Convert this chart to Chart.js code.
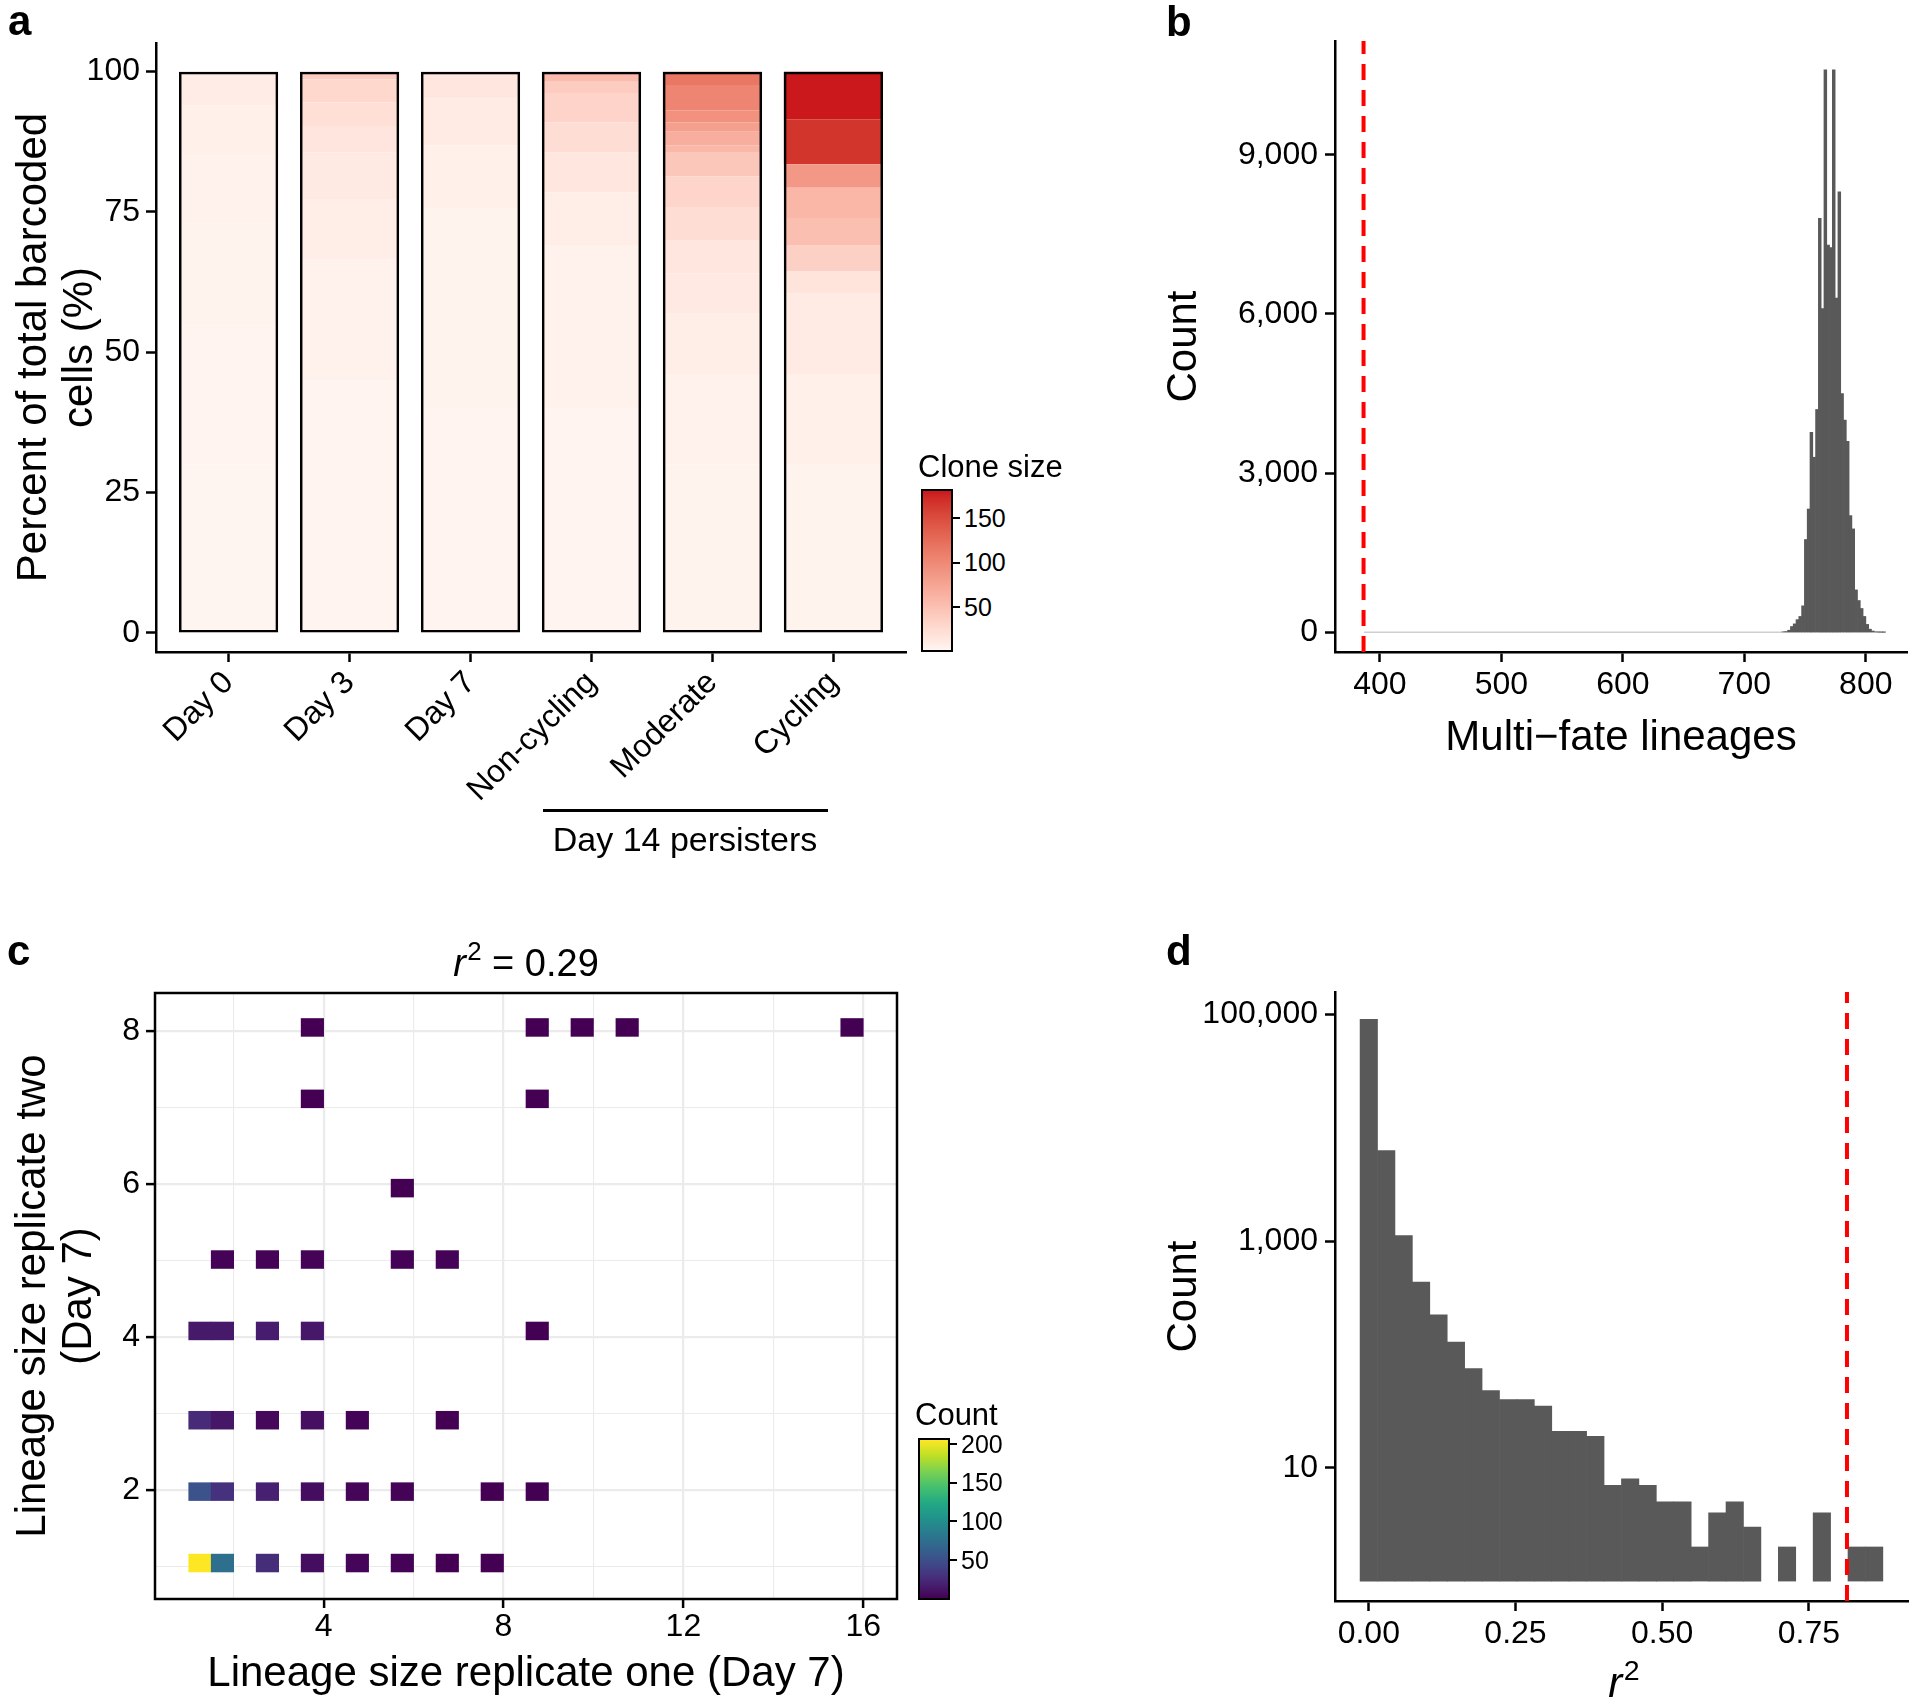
<!DOCTYPE html>
<html>
<head>
<meta charset="utf-8">
<title>Clone size and multi-fate lineages</title>
<script src="https://cdn.jsdelivr.net/npm/chart.js"></script>
<style>
  html, body { margin: 0; padding: 0; background: #ffffff; }
  #page { position: relative; width: 1920px; height: 1707px; overflow: hidden;
          font-family: "Liberation Sans", Arial, Helvetica, sans-serif; color: #000; }
  #page canvas { position: absolute; }
  .lbl { position: absolute; white-space: nowrap; line-height: 1; }
  .cbar { position: absolute; box-sizing: border-box; border: 2px solid #000; }
  .ctick { position: absolute; width: 7px; height: 2px; background: #000; }
  .sup { position: relative; top: -0.6em; font-size: 0.68em; margin-left: 0.05em; }
</style>
</head>
<body>
<div id="page">
  <canvas id="chartA" width="920" height="860" style="left:0px; top:0px;"></canvas>
  <canvas id="chartB" width="760" height="800" style="left:1160px; top:0px;"></canvas>
  <canvas id="chartC" width="920" height="807" style="left:0px; top:900px;"></canvas>
  <canvas id="chartD" width="760" height="807" style="left:1160px; top:900px;"></canvas>
  <div style="position:absolute; left:543px; top:809px; width:285px; height:3px; background:#000;"></div>
</div>
<script>
// ---- panel a: share of barcoded cells by clone size (bottom to top) ----
const sampleLabels = ["Day 0", "Day 3", "Day 7", "Non-cycling", "Moderate", "Cycling"];
const day0Sizes = [1, 2, 3, 4, 6, 9];
const day0Pct = [30, 25, 18, 12, 9, 6];
const day3Sizes = [2, 4, 7, 11, 16, 21, 28, 39];
const day3Pct = [45, 21.6, 10.7, 8.3, 4.7, 4.2, 4.1, 1.4];
const day7Sizes = [2, 3, 6, 10, 14, 22];
const day7Pct = [40, 35.6, 11.3, 8.3, 4.2, 0.6];
const nonCyclingSizes = [2, 4, 7, 14, 23, 31, 39, 55];
const nonCyclingPct = [40, 29, 9.5, 7.1, 5.4, 5.2, 2.0, 1.8];
const moderateSizes = [3, 5, 8, 12, 15, 23, 30, 43, 57, 66, 79, 93, 103, 116];
const moderatePct = [30, 16, 11, 7, 6, 5.9, 5.4, 4.4, 1.2, 2.4, 1.7, 2.1, 4.5, 2.4];
const cyclingSizes = [3, 6, 10, 17, 35, 51, 59, 86, 167, 181];
const cyclingPct = [30, 16, 14.5, 3.9, 4.7, 4.8, 5.4, 4.2, 8.0, 8.5];
const cloneMin = 1, cloneMax = 181;
const cloneBreaks = [50, 100, 150];

// ---- panel b: permuted multi-fate lineage counts ----
const fateBins = [732.2, 734.5, 736.8, 739.1, 741.4, 743.7, 746.0, 748.3, 750.6, 752.9,
  755.2, 757.5, 759.8, 762.1, 764.4, 766.7, 769.0, 771.3, 773.6, 775.9,
  778.2, 780.5, 782.8, 785.1, 787.4, 789.7, 792.0, 794.3, 796.6, 798.9,
  801.2, 803.5, 805.8, 808.1, 810.4, 812.7, 815.0];
const fateCounts = [10, 15, 40, 110, 160, 240, 300, 500, 1750, 2325,
  3770, 3300, 4200, 7800, 6100, 10600, 7300, 7250, 10600, 6300,
  8300, 4500, 4000, 3600, 2200, 1950, 800, 600, 450, 300,
  150, 60, 25, 10, 5, 3, 2];
const fateSpan = [387, 816];      // range covered by the (mostly empty) bins
const observedFate = 386.6;       // red dashed line
const fateTicksX = [400, 500, 600, 700, 800];
const fateTicksY = [0, 3000, 6000, 9000];

// ---- panel c: lineage size in the two day 7 replicates ----
const rep1Size = [1, 2, 3, 4, 5, 6, 7, 8,  1, 2, 3, 4, 5, 6, 8, 9,  1, 2, 3, 4, 5, 7,
  1, 2, 3, 4, 9,  2, 3, 4, 6, 7,  6,  4, 9,  4, 9, 10, 11, 16];
const rep2Size = [1, 1, 1, 1, 1, 1, 1, 1,  2, 2, 2, 2, 2, 2, 2, 2,  3, 3, 3, 3, 3, 3,
  4, 4, 4, 4, 4,  5, 5, 5, 5, 5,  6,  7, 7,  8, 8, 8, 8, 8];
const pairCount = [205, 75, 27, 8, 4, 2, 1, 1,  52, 30, 19, 8, 4, 2, 1, 1,  25, 13, 5, 9, 2, 1,
  15, 15, 17, 14, 1,  2, 2, 2, 2, 2,  1,  1, 1,  1, 1, 1, 1, 1];
const countMin = 1, countMax = 205;
const countBreaks = [50, 100, 150, 200];

// ---- panel d: r^2 of permuted replicates (log counts) ----
const r2Bins = [0.0000, 0.0297, 0.0594, 0.0891, 0.1188, 0.1485, 0.1782, 0.2079, 0.2376, 0.2673,
  0.2970, 0.3267, 0.3564, 0.3861, 0.4158, 0.4455, 0.4752, 0.5049, 0.5346, 0.5643,
  0.5940, 0.6237, 0.6534, 0.6831, 0.7128, 0.7425, 0.7722, 0.8019, 0.8316, 0.8613];
const r2Counts = [91000, 6300, 1120, 435, 224, 129, 75, 48, 40, 40,
  35, 21, 21, 19, 7, 8, 7, 5, 5, 2,
  4, 5, 3, 0, 2, 0, 4, 0, 2, 2];
const observedR2 = 0.815;
const r2TicksX = [0, 0.25, 0.5, 0.75];
const r2TicksY = [10, 1000, 100000];

// ---------------- colour helpers ----------------
function hexToRgb(hex) {
  const n = parseInt(hex.slice(1), 16);
  return [(n >> 16) & 255, (n >> 8) & 255, n & 255];
}
function rgbToLab(rgb) {
  const lin = rgb.map(v => { v /= 255; return v <= 0.04045 ? v / 12.92 : Math.pow((v + 0.055) / 1.055, 2.4); });
  const x = (0.4124 * lin[0] + 0.3576 * lin[1] + 0.1805 * lin[2]) / 0.95047;
  const y = 0.2126 * lin[0] + 0.7152 * lin[1] + 0.0722 * lin[2];
  const z = (0.0193 * lin[0] + 0.1192 * lin[1] + 0.9505 * lin[2]) / 1.08883;
  const f = t => t > 0.008856 ? Math.cbrt(t) : 7.787 * t + 16 / 116;
  const fx = f(x), fy = f(y), fz = f(z);
  return [116 * fy - 16, 500 * (fx - fy), 200 * (fy - fz)];
}
function labToRgb(lab) {
  const fy = (lab[0] + 16) / 116, fx = fy + lab[1] / 500, fz = fy - lab[2] / 200;
  const finv = t => t > 0.206893 ? t * t * t : (t - 16 / 116) / 7.787;
  const x = finv(fx) * 0.95047, y = finv(fy), z = finv(fz) * 1.08883;
  const lin = [
    3.2406 * x - 1.5372 * y - 0.4986 * z,
    -0.9689 * x + 1.8758 * y + 0.0415 * z,
    0.0557 * x - 0.2040 * y + 1.0570 * z
  ];
  return lin.map(v => {
    v = v <= 0.0031308 ? 12.92 * v : 1.055 * Math.pow(v, 1 / 2.4) - 0.055;
    return Math.round(Math.min(1, Math.max(0, v)) * 255);
  });
}
const labLow = rgbToLab(hexToRgb("#FFF5F0"));
const labHigh = rgbToLab(hexToRgb("#CB181D"));
function cloneColor(size) {
  const t = Math.min(1, Math.max(0, (size - cloneMin) / (cloneMax - cloneMin)));
  const rgb = labToRgb(labLow.map((v, k) => v + (labHigh[k] - v) * t));
  return `rgb(${rgb.join(",")})`;
}
const viridisStops = ["#440154", "#482475", "#414487", "#355F8D", "#2A788E", "#21918C",
  "#22A884", "#44BF70", "#7AD151", "#BDDF26", "#FDE725"];
function viridis(t) {
  t = Math.min(1, Math.max(0, t));
  const p = t * (viridisStops.length - 1);
  const i = Math.min(Math.floor(p), viridisStops.length - 2);
  const f = p - i;
  const a = hexToRgb(viridisStops[i]), b = hexToRgb(viridisStops[i + 1]);
  return `rgb(${a.map((v, k) => Math.round(v + (b[k] - v) * f)).join(",")})`;
}

// ---------------- shared styling ----------------
Chart.defaults.font.family = "'Liberation Sans', Arial, Helvetica, sans-serif";
Chart.defaults.color = "#000";
Chart.defaults.animation = false;
Chart.defaults.plugins.legend.display = false;
Chart.defaults.plugins.tooltip.enabled = false;

const TICK_FONT = { size: 32 };
const TITLE_FONT = { size: 42, lineHeight: 1.1 };
const classicGrid = { display: true, offset: false, drawOnChartArea: false, drawTicks: true, tickLength: 10, tickWidth: 2.5, tickColor: "#000" };
const classicBorder = { display: true, color: "#000", width: 2.5 };
const fmt = v => Number(v).toLocaleString("en-US");
const fixTicks = list => scale => { scale.ticks = list.map(v => ({ value: v })); };

// ---------------- panel a ----------------
const cloneSizes = [day0Sizes, day3Sizes, day7Sizes, nonCyclingSizes, moderateSizes, cyclingSizes];
const clonePct = [day0Pct, day3Pct, day7Pct, nonCyclingPct, moderatePct, cyclingPct];
const segCount = Math.max(...cloneSizes.map(s => s.length));
const aDatasets = [];
for (let k = 0; k < segCount; k++) {
  aDatasets.push({
    data: sampleLabels.map((_, i) => ({ x: i + 1, y: clonePct[i][k] !== undefined ? clonePct[i][k] : null })),
    backgroundColor: sampleLabels.map((_, i) => cloneSizes[i][k] !== undefined ? cloneColor(cloneSizes[i][k]) : "rgba(0,0,0,0)"),
    borderWidth: 0,
    barPercentage: 0.82,
    categoryPercentage: 1
  });
}
// outline of each whole bar
aDatasets.push({
  data: sampleLabels.map((_, i) => ({ x: i + 1, y: clonePct[i].reduce((s, v) => s + v, 0) })),
  backgroundColor: "rgba(0,0,0,0)",
  borderColor: "#000",
  borderWidth: 2.5,
  borderSkipped: false,
  grouped: false,
  stack: "outline",
  order: -1,
  barPercentage: 0.82,
  categoryPercentage: 1
});

new Chart(document.getElementById("chartA"), {
  type: "bar",
  data: { datasets: aDatasets },
  options: {
    responsive: false,
    layout: { padding: { top: 43, right: 14, left: 0, bottom: 0 } },
    scales: {
      x: {
        type: "linear", min: 0.4, max: 6.6, stacked: true, offset: false,
        afterBuildTicks: fixTicks(sampleLabels.map((_, i) => i + 1)),
        afterFit: s => { s.height = 208; },
        ticks: { callback: v => sampleLabels[v - 1], minRotation: 45, maxRotation: 45, autoSkip: false, font: { size: 32 }, padding: 2 },
        grid: classicGrid, border: classicBorder
      },
      y: {
        type: "linear", min: -3.4, max: 105.1, stacked: true,
        afterBuildTicks: fixTicks([0, 25, 50, 75, 100]),
        afterFit: s => { s.width = 156; },
        ticks: { font: TICK_FONT, padding: 6, autoSkip: false },
        grid: classicGrid, border: classicBorder,
        title: { display: true, text: ["Percent of total barcoded", "cells (%)"], font: TITLE_FONT, padding: { top: 11, bottom: 0 } }
      }
    }
  }
});

// ---------------- panel b ----------------
const bYMin = -370, bYMax = 11144;
new Chart(document.getElementById("chartB"), {
  type: "bar",
  data: {
    datasets: [
      {
        type: "bar",
        data: fateBins.map((b, i) => ({ x: b, y: fateCounts[i] })),
        backgroundColor: "#595959", borderWidth: 0,
        barPercentage: 1, categoryPercentage: 1, order: 2
      },
      {
        type: "line",
        data: [{ x: fateSpan[0], y: 0 }, { x: fateSpan[1], y: 0 }],
        borderColor: "#CFCFCF", borderWidth: 1.5, pointRadius: 0, order: 3
      },
      {
        type: "line",
        data: [{ x: observedFate, y: bYMin }, { x: observedFate, y: bYMax }],
        borderColor: "#FF0000", borderWidth: 4, borderDash: [16, 10], pointRadius: 0, order: 1
      }
    ]
  },
  options: {
    responsive: false,
    layout: { padding: { top: 41, right: 13, left: 0, bottom: 0 } },
    scales: {
      x: {
        type: "linear", min: 363.1, max: 833.9, offset: false,
        afterBuildTicks: fixTicks(fateTicksX),
        afterFit: s => { s.height = 148; },
        ticks: { font: TICK_FONT, padding: 4, autoSkip: false, maxRotation: 0 },
        grid: classicGrid, border: classicBorder,
        title: { display: true, text: "Multi\u2212fate lineages", font: TITLE_FONT, padding: { top: 0, bottom: 38.5 } }
      },
      y: {
        type: "linear", min: bYMin, max: bYMax,
        afterBuildTicks: fixTicks(fateTicksY),
        afterFit: s => { s.width = 175; },
        ticks: { font: TICK_FONT, padding: 7, callback: fmt, autoSkip: false },
        grid: classicGrid, border: classicBorder,
        title: { display: true, text: "Count", font: TITLE_FONT, padding: { top: 1.5, bottom: 0 } }
      }
    }
  }
});

// ---------------- panel c ----------------
function binRange(v, origin, width) {
  const n = Math.max(Math.ceil((v - origin) / width - 1e-9) - 1, 0);
  return [origin + n * width, origin + (n + 1) * width];
}
const tiles = rep1Size.map((xv, i) => {
  const xr = binRange(xv, 1, 0.5);
  const yr = binRange(rep2Size[i], 0.9333, 0.23333);
  return { x: (xr[0] + xr[1]) / 2, y: yr };
});
const panelBorder = {
  id: "panelBorder",
  afterDraw(chart) {
    const { ctx, chartArea: a } = chart;
    ctx.save();
    ctx.strokeStyle = "#000";
    ctx.lineWidth = 2.5;
    ctx.strokeRect(a.left, a.top, a.right - a.left, a.bottom - a.top);
    ctx.restore();
  }
};
const isMajor = (c, step) => c.tick && Math.abs(c.tick.value % step) < 1e-9;
new Chart(document.getElementById("chartC"), {
  type: "bar",
  data: {
    datasets: [{
      data: tiles,
      backgroundColor: pairCount.map(c => viridis((c - countMin) / (countMax - countMin))),
      borderWidth: 0,
      barPercentage: 1, categoryPercentage: 1
    }]
  },
  options: {
    responsive: false,
    layout: { padding: { top: 93, right: 23, left: 0, bottom: 0 } },
    scales: {
      x: {
        type: "linear", min: 0.25, max: 16.75, offset: false,
        afterBuildTicks: fixTicks([2, 4, 6, 8, 10, 12, 14, 16]),
        afterFit: s => { s.height = 108; },
        ticks: { font: TICK_FONT, padding: 0, autoSkip: false, maxRotation: 0, callback: v => (v % 4 === 0 ? v : "") },
        grid: {
          display: true, offset: false, drawOnChartArea: true, drawTicks: true, tickLength: 9, tickWidth: 2.5,
          color: "#EBEBEB",
          lineWidth: c => (isMajor(c, 4) ? 2.2 : 1.1),
          tickColor: c => (isMajor(c, 4) ? "#000" : "rgba(0,0,0,0)")
        },
        border: { display: false },
        title: { display: true, text: "Lineage size replicate one (Day 7)", font: TITLE_FONT, padding: { top: 0, bottom: 9.3 } }
      },
      y: {
        type: "linear", min: 0.58, max: 8.5,
        afterBuildTicks: fixTicks([1, 2, 3, 4, 5, 6, 7, 8]),
        afterFit: s => { s.width = 155; },
        ticks: { font: TICK_FONT, padding: 6, autoSkip: false, callback: v => (v % 2 === 0 ? v : "") },
        grid: {
          display: true, drawOnChartArea: true, drawTicks: true, tickLength: 9, tickWidth: 2.5,
          color: "#EBEBEB",
          lineWidth: c => (isMajor(c, 2) ? 2.2 : 1.1),
          tickColor: c => (isMajor(c, 2) ? "#000" : "rgba(0,0,0,0)")
        },
        border: { display: false },
        title: { display: true, text: ["Lineage size replicate two", "(Day 7)"], font: TITLE_FONT, padding: { top: 10.6, bottom: 0 } }
      }
    }
  },
  plugins: [panelBorder]
});

// ---------------- panel d ----------------
const dYMin = 0.667, dYMax = 158500;
new Chart(document.getElementById("chartD"), {
  type: "bar",
  data: {
    datasets: [
      {
        type: "bar",
        data: r2Bins.map((b, i) => ({ x: b, y: r2Counts[i] > 0 ? [1, r2Counts[i]] : null })),
        backgroundColor: "#595959", borderWidth: 0,
        barPercentage: 1, categoryPercentage: 1, order: 2
      },
      {
        type: "line",
        data: [{ x: observedR2, y: dYMin }, { x: observedR2, y: dYMax }],
        borderColor: "#FF0000", borderWidth: 4, borderDash: [16, 10], pointRadius: 0, order: 1
      }
    ]
  },
  options: {
    responsive: false,
    layout: { padding: { top: 92, right: 12, left: 0, bottom: 0 } },
    scales: {
      x: {
        type: "linear", min: -0.0576, max: 0.919, offset: false,
        afterBuildTicks: fixTicks(r2TicksX),
        afterFit: s => { s.height = 106; },
        ticks: { font: TICK_FONT, padding: 4, autoSkip: false, maxRotation: 0, callback: v => Number(v).toFixed(2) },
        grid: classicGrid, border: classicBorder
      },
      y: {
        type: "logarithmic", min: dYMin, max: dYMax,
        afterBuildTicks: fixTicks(r2TicksY),
        afterFit: s => { s.width = 175; },
        ticks: { font: TICK_FONT, padding: 7, callback: fmt, autoSkip: false },
        grid: classicGrid, border: classicBorder,
        title: { display: true, text: "Count", font: TITLE_FONT, padding: { top: 1.5, bottom: 0 } }
      }
    }
  }
});

// ---------------- text and colour bars ----------------
const page = document.getElementById("page");
function addText(html, x, baseline, size, opts = {}) {
  const el = document.createElement("div");
  el.className = "lbl";
  el.innerHTML = html;
  el.style.fontSize = size + "px";
  el.style.left = x + "px";
  el.style.top = (baseline - 0.8465 * size) + "px";
  if (opts.bold) el.style.fontWeight = "bold";
  if (opts.center) el.style.transform = "translateX(-50%)";
  page.appendChild(el);
  return el;
}
function addColorBar(left, top, width, height, colorAt, breaks, lo, hi, title, titleBaseline) {
  const stops = [];
  for (let i = 0; i <= 20; i++) stops.push(colorAt(i / 20) + " " + (i * 5) + "%");
  const bar = document.createElement("div");
  bar.className = "cbar";
  Object.assign(bar.style, { left: left + "px", top: top + "px", width: width + "px", height: height + "px",
    background: "linear-gradient(to top, " + stops.join(", ") + ")" });
  page.appendChild(bar);
  const inner = height - 4;
  breaks.forEach(v => {
    const y = top + 2 + inner - (v - lo) / (hi - lo) * inner;
    const tk = document.createElement("div");
    tk.className = "ctick";
    Object.assign(tk.style, { left: (left + width) + "px", top: (y - 1) + "px" });
    page.appendChild(tk);
    addText(String(v), left + width + 11, y + 0.358 * 25, 25);
  });
  addText(title, left - 3, titleBaseline, 31);
}

addText("a", 8, 36, 42, { bold: true });
addText("b", 1166, 37, 42, { bold: true });
addText("c", 7, 966, 42, { bold: true });
addText("d", 1166, 966, 42, { bold: true });
addText("Day 14 persisters", 685, 851, 34, { center: true });
addText('<i>r</i><span class="sup">2</span> = 0.29', 526, 975.7, 38, { center: true });
addText('<i>r</i><span class="sup">2</span>', 1624, 1698, 42, { center: true });

addColorBar(921, 489, 32, 163,
  t => cloneColor(cloneMin + t * (cloneMax - cloneMin)),
  cloneBreaks, cloneMin, cloneMax, "Clone size", 477);
addColorBar(918, 1438, 32, 162,
  t => viridis(t),
  countBreaks, countMin, countMax, "Count", 1425);
</script>
</body>
</html>
